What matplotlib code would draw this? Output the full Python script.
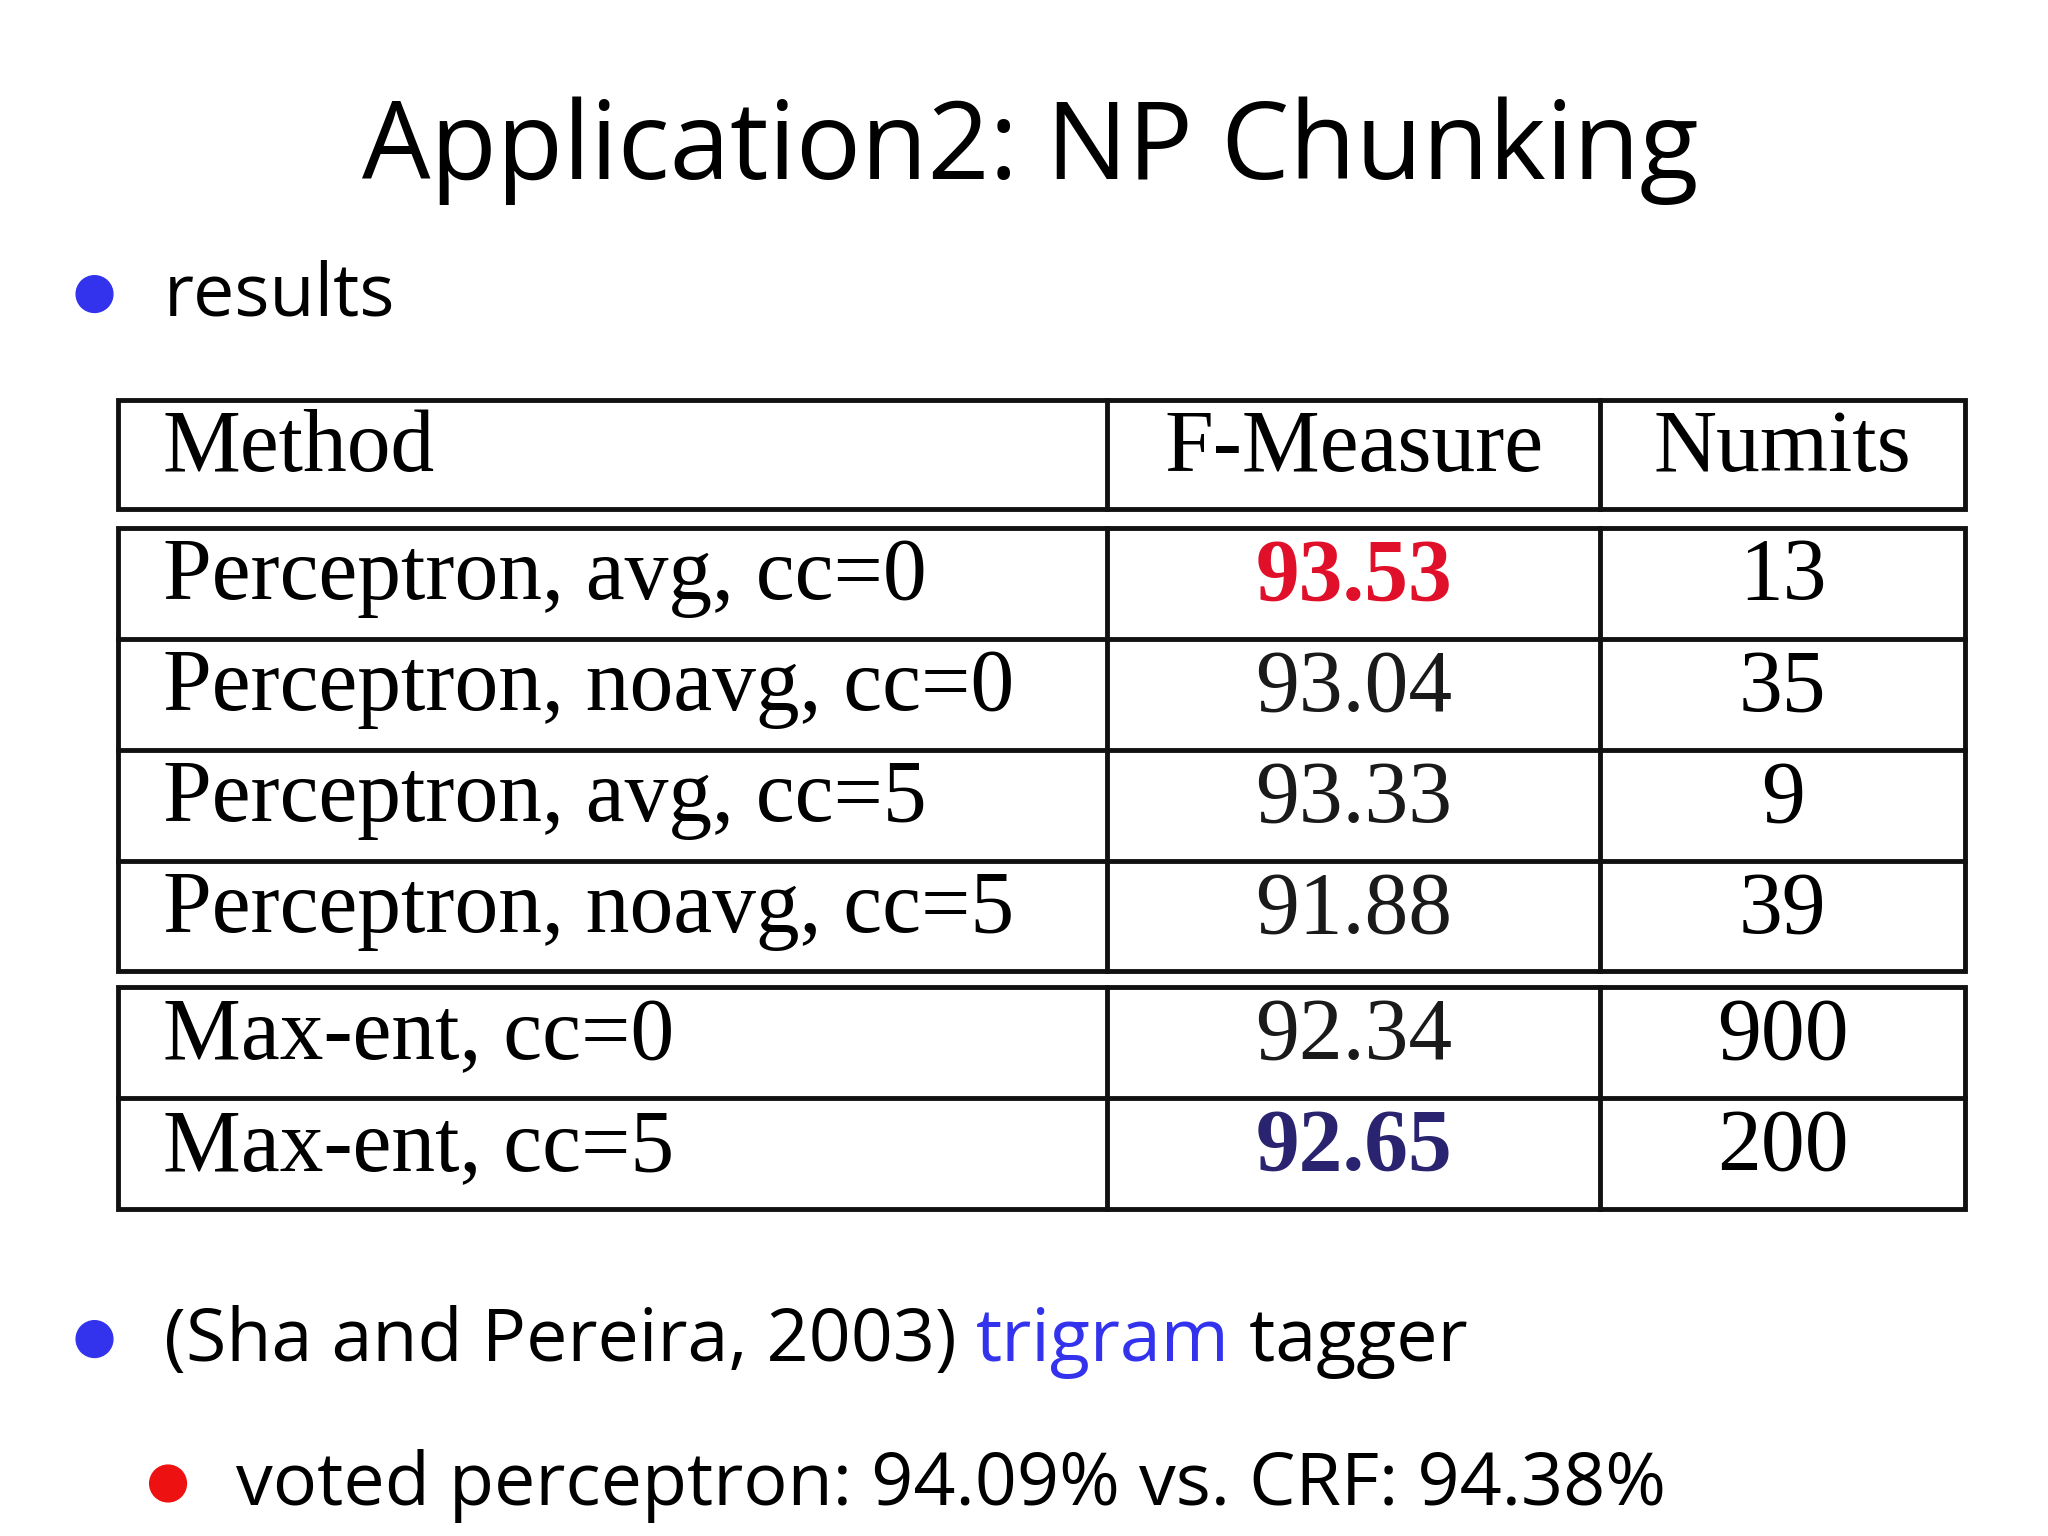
import matplotlib.pyplot as plt
from matplotlib.patches import Rectangle, Circle

# ─── Data ─────────────────────────────────────────────────────────────────────
title = "Application2: NP Chunking"
headers = ["Method", "F-Measure", "Numits"]
methods = ["Perceptron, avg, cc=0", "Perceptron, noavg, cc=0",
           "Perceptron, avg, cc=5", "Perceptron, noavg, cc=5",
           "Max-ent, cc=0", "Max-ent, cc=5"]
fmeasure = ["93.53", "93.04", "93.33", "91.88", "92.34", "92.65"]
numits = ["13", "35", "9", "39", "900", "200"]
f_colors = ["#e0102a", "#1a1a1a", "#1a1a1a", "#1a1a1a", "#1a1a1a", "#2a2470"]
f_bold = [True, False, False, False, False, True]

# ─── Canvas (pixel-like coords of a 1560x1170 layout) ─────────────────────────
fig = plt.figure(figsize=(20.48, 15.36), dpi=100)
ax = fig.add_axes([0, 0, 1, 1])
ax.set_xlim(0, 1560)
ax.set_ylim(1170, 0)
ax.axis('off')

sans = ["Open Sans", "DejaVu Sans"]
serif = ["Liberation Serif", "DejaVu Serif"]
TS = 63   # table font size
BS = 53   # bullet font size

ax.text(785, 115, title, ha='center', va='center', fontsize=78, family=sans)

# bullets
ax.add_patch(Circle((72, 224), 14, color="#3333ee"))
ax.text(125, 226, "results", ha='left', va='center', fontsize=BS, family=sans, fontweight='medium')

# table
x0, x1, x2, x3 = 90, 843, 1219, 1497
groups = [(305, 388, [None]), (402, 740, [0, 1, 2, 3]), (752, 921, [4, 5])]
lw = 3.5
for top, bot, rows in groups:
    ax.add_patch(Rectangle((x0, top), x3 - x0, bot - top, fill=False, lw=lw, ec='#111'))
    ax.plot([x1, x1], [top, bot], color='#111', lw=lw)
    ax.plot([x2, x2], [top, bot], color='#111', lw=lw)
    h = (bot - top) / len(rows)
    for k, r in enumerate(rows):
        if k > 0:
            ax.plot([x0, x3], [top + k * h, top + k * h], color='#111', lw=lw)
        yc = top + (k + 0.5) * h - 4
        if r is None:
            ax.text(124, yc, headers[0], ha='left', va='center', fontsize=TS, family=serif)
            ax.text((x1 + x2) / 2, yc, headers[1], ha='center', va='center', fontsize=TS, family=serif)
            ax.text((x2 + x3) / 2, yc, headers[2], ha='center', va='center', fontsize=TS, family=serif)
        else:
            ax.text(124, yc, methods[r], ha='left', va='center', fontsize=TS, family=serif)
            ax.text((x1 + x2) / 2, yc, fmeasure[r], ha='center', va='center', fontsize=TS,
                    family=serif, color=f_colors[r],
                    fontweight='bold' if f_bold[r] else 'normal')
            ax.text((x2 + x3) / 2, yc, numits[r], ha='center', va='center', fontsize=TS, family=serif)

ax.add_patch(Circle((72, 1020), 14, color="#3333ee"))
t = ax.text(125, 1022, "(Sha and Pereira, 2003) ", ha='left', va='center', fontsize=BS,
            family=sans, fontweight='medium')
fig.canvas.draw()
bb = t.get_window_extent().transformed(ax.transData.inverted())
t2 = ax.text(bb.x1, 1022, "trigram", ha='left', va='center', fontsize=BS, family=sans,
             color="#3333ee", fontweight='medium')
fig.canvas.draw()
bb2 = t2.get_window_extent().transformed(ax.transData.inverted())
ax.text(bb2.x1, 1022, " tagger", ha='left', va='center', fontsize=BS, family=sans, fontweight='medium')

ax.add_patch(Circle((128, 1130), 14, color="#ee1111"))
ax.text(180, 1132, "voted perceptron: 94.09% vs. CRF: 94.38%", ha='left', va='center',
        fontsize=BS, family=sans, fontweight='medium')

fig.savefig("out.png", dpi=100)
